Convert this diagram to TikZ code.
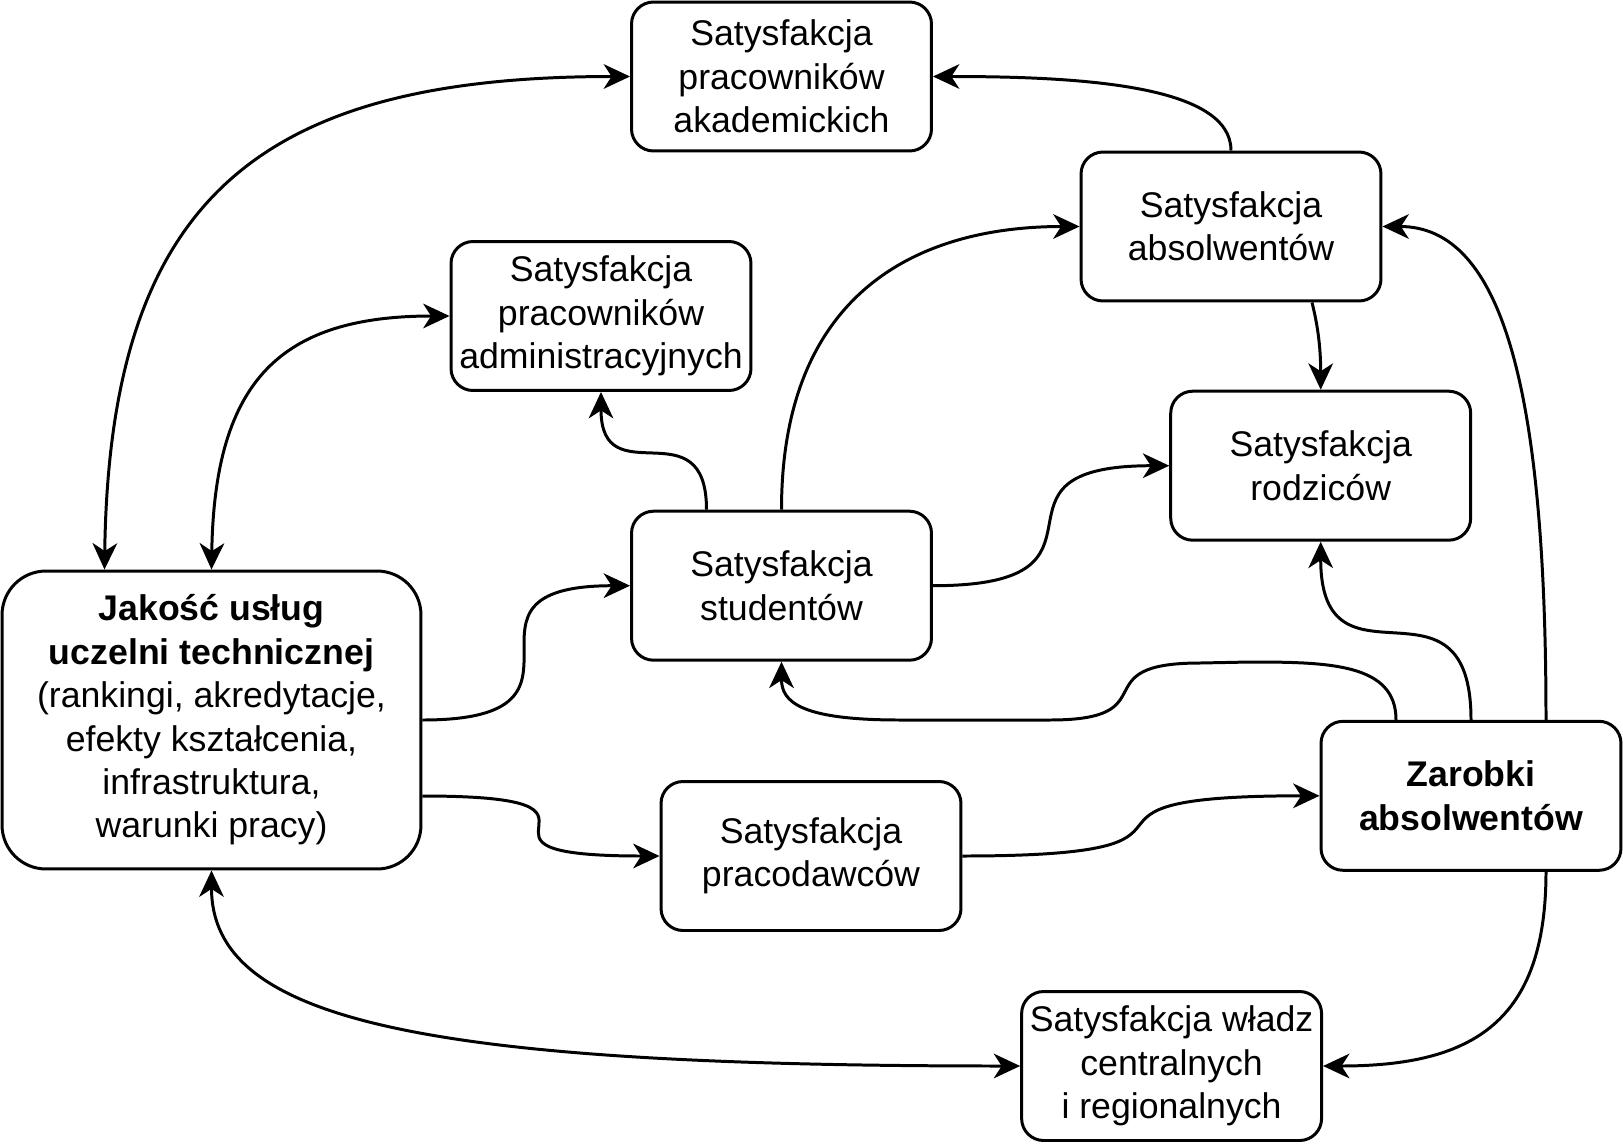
\documentclass[tikz,border=0pt]{standalone}
\usepackage{fontspec}
\setmainfont{Liberation Sans}
\usetikzlibrary{calc, arrows.meta}

\begin{document}
\begin{tikzpicture}[x=0.02cm, y=-0.02cm,
    box/.style={draw, line width=1.7pt, rounded corners=12.5pt, align=center,
        minimum width=6cm, minimum height=2.98cm, inner sep=2pt,
        font=\fontsize{20.3pt}{24.7pt}\selectfont},
    bigbox/.style={box, rounded corners=25pt, minimum width=8.38cm, minimum height=5.96cm},
    conn/.style={line width=1.7pt, >={Stealth[length=15pt, width=14pt, inset=4.5pt]}}]
    \useasboundingbox (0,0) rectangle (1623,1143);

    % boxes
    \node[box] (akad) at (781.5,76.5) {Satysfakcja\\pracowników\\akademickich};
    \node[box] (absolw) at (1231,226.5) {Satysfakcja\\absolwentów};
    \node[box] (admin) at (601,316) {Satysfakcja\\pracowników\\administracyjnych};
    \node[box] (rodz) at (1320.7,465.7) {Satysfakcja\\rodziców};
    \node[box] (stud) at (781.5,585.7) {Satysfakcja\\studentów};
    \node[bigbox] (jakosc) at (211.5,720) {\textbf{Jakość usług}\\\textbf{uczelni technicznej}\\(rankingi, akredytacje,\\efekty kształcenia,\\infrastruktura,\\warunki pracy)};
    \node[box] (zarobki) at (1471,795.8) {\textbf{Zarobki}\\\textbf{absolwentów}};
    \node[box] (pracod) at (811,856) {Satysfakcja\\pracodawców};
    \node[box] (wladz) at (1171.6,1066) {Satysfakcja władz\\centralnych\\i regionalnych};

    % quality and staff, authorities
    \draw[conn, <->] ($(jakosc.north)+(-107,0)$) .. controls +(5,-371) and +(-371,0) .. (akad.west);
    \draw[conn, <->] (jakosc.north) .. controls +(3,-190) and +(-168,0) .. (admin.west);
    \draw[conn, <->] (jakosc.south) .. controls +(0,150) and +(-600,0) .. (wladz.west);

    % from quality
    \draw[conn, ->] (jakosc.east) .. controls +(200,0) and +(-200,0) .. (stud.west);
    \draw[conn, ->] ($(jakosc.east)+(0,76)$) .. controls +(235,0) and +(-235,0) .. (pracod.west);

    % from students
    \draw[conn, ->] ($(stud.north)+(-75,0)$) .. controls +(0,-105) and +(0,105) .. (admin.south);
    \draw[conn, ->] (stud.north) .. controls +(0,-210) and +(-170,0) .. (absolw.west);
    \draw[conn, ->] (stud.east) .. controls +(205,0) and +(-205,0) .. (rodz.west);

    % from graduates
    \draw[conn, ->] (absolw.north) .. controls +(0,-65) and +(150,0) .. (akad.east);
    \draw[conn, ->] ($(absolw.south)+(81,0)$) .. controls +(5,20) and +(0,-45) .. (rodz.north);

    % from employers
    \draw[conn, ->] (pracod.east) .. controls +(300,0) and +(-300,0) .. (zarobki.west);

    % from earnings
    \draw[conn, ->] (zarobki.north) .. controls +(0,-160) and +(0,160) .. (rodz.south);
    \draw[conn, ->] ($(zarobki.north)+(75,0)$) .. controls +(0,-330) and +(120,0) .. (absolw.east);
    \draw[conn, ->] ($(zarobki.south)+(75,0)$) .. controls +(0,150) and +(150,0) .. (wladz.east);
    \draw[conn, ->] ($(zarobki.north)+(-75,0)$) .. controls +(0,-56) and +(80,0) .. (1250,662)
        -- (1200,663) .. controls +(-120,0) and +(120,0) .. (1050,720)
        -- (900,720) .. controls +(-100,0) and +(0,40) .. (stud.south);
\end{tikzpicture}
\end{document}
